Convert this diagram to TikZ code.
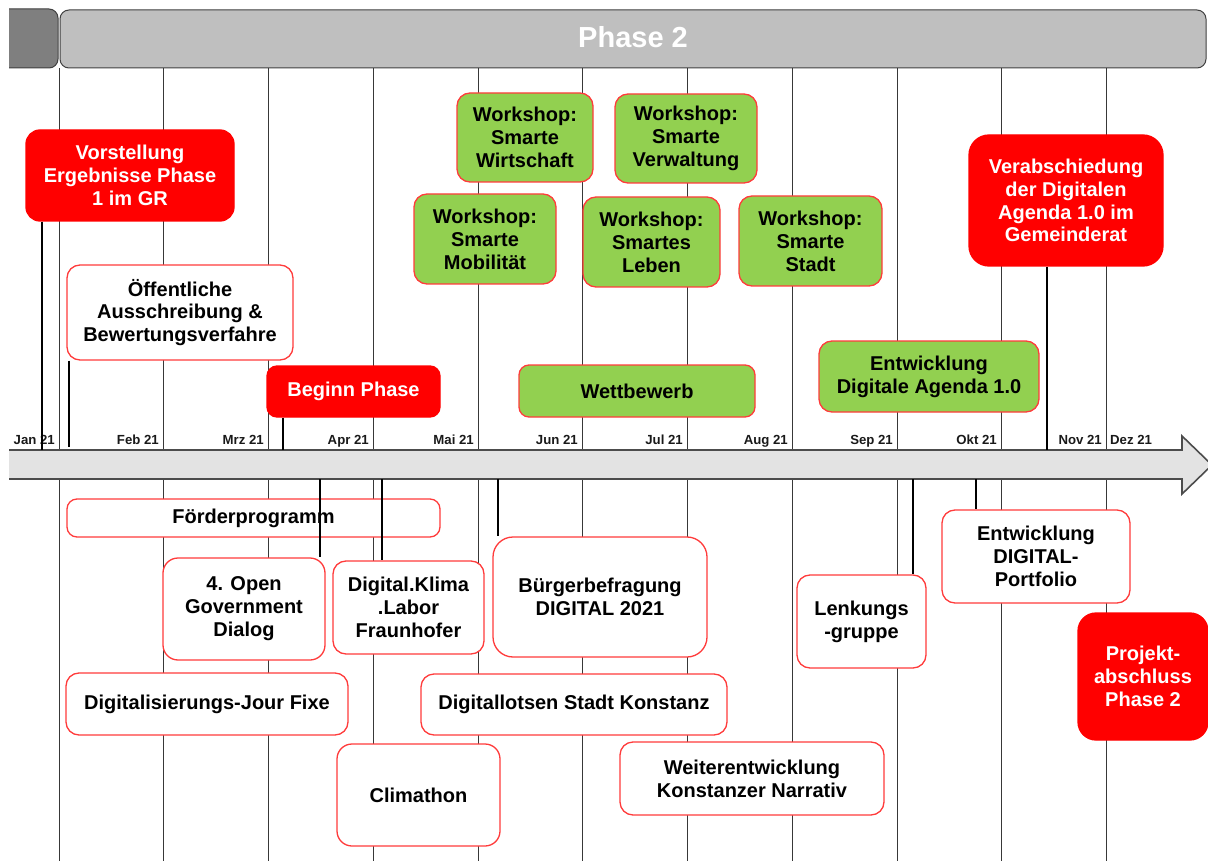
\documentclass[tikz,border=0pt]{standalone}
\usepackage{fontspec}
\setmainfont{Liberation Sans}
\newcommand\boxfont{\fontsize{20}{22.9}\selectfont\bfseries}
\newcommand\monthfont{\fontsize{13.2}{15}\selectfont\bfseries}
\newcommand\headfont{\fontsize{29}{33}\selectfont\bfseries}
\definecolor{boxred}{HTML}{FF3B3B}
\definecolor{wgreen}{HTML}{92D050}
\definecolor{bandgray}{HTML}{E3E3E3}
\definecolor{hdrlight}{HTML}{BFBFBF}
\definecolor{hdrdark}{HTML}{7F7F7F}
\tikzset{
  gridline/.style={draw=black!78, line width=1pt},
  evt/.style={draw=black, line width=2pt},
  wbox/.style={draw=boxred, line width=1.3pt, fill=white, rounded corners=13pt,
               align=center, inner sep=0pt, font=\boxfont},
  gbox/.style={wbox, fill=wgreen},
  rbox/.style={wbox, draw=red, fill=red, text=white},
  month/.style={font=\monthfont, anchor=base east, inner sep=0pt, text=black!90},
  hdr/.style={draw=black!75, line width=1pt, rounded corners=9pt, inner sep=0pt},
}
\begin{document}
\begin{tikzpicture}[x=1pt,y=-1pt]
\useasboundingbox (0,0) rectangle (1208,861);

% header
\fill[hdrdark] (9,68) -- (9,9) {[rounded corners=9pt] -- (58,9) -- (58,68)} -- cycle;
\draw[draw=black!75, line width=1pt] (9,9) {[rounded corners=9pt] -- (58,9) -- (58,68)} -- (9,68);
\node[hdr, fill=hdrlight, minimum width=1146, minimum height=58] (hdrR) at (633,39) {};
\node[text=white, font=\headfont, inner sep=0pt] (phase) at ([yshift=2pt]hdrR.center) {Phase 2};

% grid lines
\foreach \gx/\gn in {59/g1,163/g2,268/g3,373/g4,478/g5,582/g6,687/g7,792/g8,897/g9,1001/g10,1106/g11}{
  \coordinate (\gn t) at (\gx,68);
  \coordinate (\gn b) at (\gx,861);
  \draw[gridline] (\gn t) -- (\gn b);
}

% band (timeline arrow)
\fill[bandgray] (9,450) -- (1182,450) -- (1182,436) -- (1212,465) -- (1182,494) -- (1182,479) -- (9,479) -- cycle;
\draw[draw=black!70, line width=1.6pt] (9,450) -- (1182,450) -- (1182,436) -- (1212,465) -- (1182,494) -- (1182,479) -- (9,479);

% month labels
\node[month] (m1) at (55,444) {Jan 21};
\node[month] (m2) at (159,444) {Feb 21};
\node[month] (m3) at (264,444) {Mrz 21};
\node[month] (m4) at (369,444) {Apr 21};
\node[month] (m5) at (474,444) {Mai 21};
\node[month] (m6) at (578,444) {Jun 21};
\node[month] (m7) at (683,444) {Jul 21};
\node[month] (m8) at (788,444) {Aug 21};
\node[month] (m9) at (893,444) {Sep 21};
\node[month] (m10) at (997,444) {Okt 21};
\node[month] (m11) at (1102,444) {Nov 21};
\node[month, anchor=base west] (m12) at (1110,444) {Dez 21};

% event coordinates on the band
\coordinate (eA) at (42,450);
\coordinate (eB) at (69,447);
\coordinate (eC) at (283,450);
\coordinate (eD) at (1047,450);
\coordinate (eE) at (320,479);
\coordinate (eF) at (382,479);
\coordinate (eG) at (498,479);
\coordinate (eH) at (913,479);
\coordinate (eI) at (976,479);

% top boxes
\node[rbox, rounded corners=14pt, minimum width=208, minimum height=91] (vorst) at (130,175.5) {Vorstellung\\Ergebnisse Phase\\1 im GR};
\node[wbox, minimum width=226, minimum height=95] (oeff) at (180,312.5) {Öffentliche\\Ausschreibung \&\\Bewertungsverfahre};
\node[rbox, rounded corners=10pt, minimum width=173, minimum height=51] (beginn) at (353.5,391.5) {Beginn Phase};
\node[gbox, minimum width=136, minimum height=89] (wsW) at (525,137.5) {Workshop:\\Smarte\\Wirtschaft};
\node[gbox, minimum width=142, minimum height=89] (wsV) at (686,138.5) {Workshop:\\Smarte\\Verwaltung};
\node[gbox, minimum width=142, minimum height=90] (wsM) at (485,239) {Workshop:\\Smarte\\Mobilität};
\node[gbox, minimum width=137, minimum height=90] (wsL) at (651.5,242) {Workshop:\\Smartes\\Leben};
\node[gbox, minimum width=143, minimum height=90] (wsS) at (810.5,241) {Workshop:\\Smarte\\Stadt};
\node[rbox, rounded corners=20pt, minimum width=194, minimum height=131] (verab) at (1066,200.5) {Verabschiedung\\der Digitalen\\Agenda 1.0 im\\Gemeinderat};
\node[gbox, minimum width=220, minimum height=71] (entwDA) at (929,376.5) {Entwicklung\\Digitale Agenda 1.0};
\node[gbox, rounded corners=10pt, minimum width=236, minimum height=52] (wettb) at (637,391) {Wettbewerb};

% bottom boxes
\node[wbox, rounded corners=10pt, minimum width=373, minimum height=38] (foerder) at (253.5,518) {Förderprogramm};
\node[wbox, rounded corners=15pt, minimum width=162, minimum height=102] (ogd) at (244,609) {4. Open\\Government\\Dialog};
\node[wbox, minimum width=151, minimum height=93] (dkl) at (408.5,607.5) {Digital.Klima\\.Labor\\Fraunhofer};
\node[wbox, minimum width=282, minimum height=62] (djf) at (207,704) {Digitalisierungs-Jour Fixe};
\node[wbox, rounded corners=15pt, minimum width=163, minimum height=102] (clim) at (418.5,795) {Climathon};
\node[wbox, rounded corners=20pt, minimum width=214, minimum height=120] (buerger) at (600,597) {Bürgerbefragung\\DIGITAL 2021};
\node[wbox, minimum width=306, minimum height=61] (dlots) at (574,704.5) {Digitallotsen Stadt Konstanz};
\node[wbox, minimum width=264, minimum height=73] (weiter) at (752,778.5) {Weiterentwicklung\\Konstanzer Narrativ};
\node[wbox, minimum width=129, minimum height=93] (lenk) at (861.5,621.5) {Lenkungs\\-gruppe};
\node[wbox, minimum width=188, minimum height=93] (entwDP) at (1036,556.5) {Entwicklung\\DIGITAL-\\Portfolio};
\node[rbox, rounded corners=18pt, minimum width=130, minimum height=127] (projekt) at (1143,676.5) {Projekt-\\abschluss\\Phase 2};

% event connectors
\draw[evt] (vorst.south -| eA) -- (eA);
\draw[evt] (oeff.south -| eB) -- (eB);
\draw[evt] (beginn.south -| eC) -- (eC);
\draw[evt] (verab.south -| eD) -- (eD);
\draw[evt] (eE) -- (ogd.north -| eE);
\draw[evt] (eF) -- (dkl.north -| eF);
\draw[evt] (eG) -- (buerger.north -| eG);
\draw[evt] (eH) -- (lenk.north -| eH);
\draw[evt] (eI) -- (entwDP.north -| eI);
\end{tikzpicture}
\end{document}
